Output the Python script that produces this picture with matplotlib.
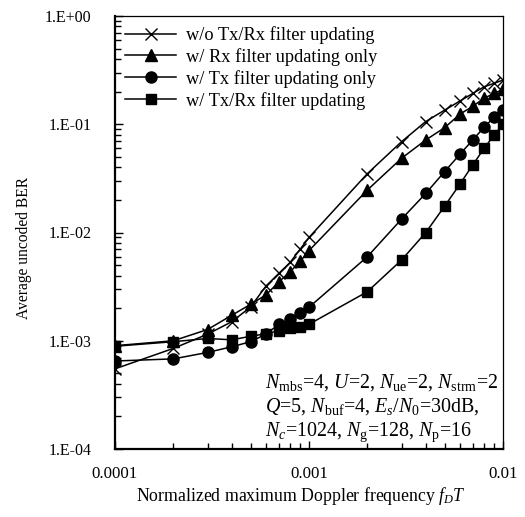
import matplotlib
matplotlib.use("Agg")
import matplotlib.pyplot as plt
from matplotlib.ticker import LogLocator, FixedLocator, FixedFormatter, NullFormatter

plt.rcParams['font.family'] = ['Liberation Serif', 'DejaVu Serif']
plt.rcParams['mathtext.fontset'] = 'custom'
plt.rcParams['mathtext.rm'] = 'Liberation Serif'
plt.rcParams['mathtext.it'] = 'Liberation Serif:italic'
plt.rcParams['mathtext.bf'] = 'Liberation Serif:bold'

fdT = [1e-4, 2e-4, 3e-4, 4e-4, 5e-4, 6e-4, 7e-4, 8e-4, 9e-4, 1e-3,
       2e-3, 3e-3, 4e-3, 5e-3, 6e-3, 7e-3, 8e-3, 9e-3, 1e-2]

ber_wo = [5.5e-4, 8.5e-4, 1.15e-3, 1.5e-3, 2.05e-3, 3.2e-3, 4.2e-3, 5.3e-3, 7.0e-3, 9.0e-3,
          3.5e-2, 6.9e-2, 0.106, 0.135, 0.164, 0.193, 0.222, 0.239, 0.256]
ber_rx = [9.0e-4, 1.0e-3, 1.27e-3, 1.72e-3, 2.17e-3, 2.65e-3, 3.5e-3, 4.35e-3, 5.4e-3, 6.8e-3,
          2.47e-2, 4.85e-2, 7.16e-2, 9.3e-2, 0.124, 0.147, 0.174, 0.193, 0.21]
ber_tx = [6.5e-4, 6.8e-4, 7.8e-4, 8.8e-4, 9.8e-4, 1.15e-3, 1.42e-3, 1.58e-3, 1.82e-3, 2.04e-3,
          5.98e-3, 1.33e-2, 2.3e-2, 3.65e-2, 5.28e-2, 7.2e-2, 9.4e-2, 0.116, 0.135]
ber_txrx = [8.9e-4, 9.8e-4, 1.05e-3, 1.02e-3, 1.1e-3, 1.16e-3, 1.24e-3, 1.3e-3, 1.35e-3, 1.42e-3,
            2.84e-3, 5.57e-3, 1.0e-2, 1.75e-2, 2.8e-2, 4.24e-2, 6.0e-2, 7.96e-2, 0.1]

labels = ["w/o Tx/Rx filter updating", "w/ Rx filter updating only",
          "w/ Tx filter updating only", "w/ Tx/Rx filter updating"]

yticks = [1e-4, 1e-3, 1e-2, 1e-1, 1e0]
ytick_labels = ["1.E-04", "1.E-03", "1.E-02", "1.E-01", "1.E+00"]
xticks = [1e-4, 1e-3, 1e-2]
xtick_labels = ["0.0001", "0.001", "0.01"]

ann_lines = [r"$N_{\mathrm{mbs}}$=4, $U$=2, $N_{\mathrm{ue}}$=2, $N_{\mathrm{strm}}$=2",
             r"$Q$=5, $N_{\mathrm{buf}}$=4, $E_s/N_0$=30dB,",
             r"$N_c$=1024, $N_{\mathrm{g}}$=128, $N_{\mathrm{p}}$=16"]

fig = plt.figure(figsize=(5.25, 5.17), dpi=100)
ax = fig.add_axes([115/525, 1-449/517, (503-115)/525, (449-16)/517])

ax.plot(fdT, ber_wo, color='black', lw=1.1, marker='x', ms=9, mew=1.0, label=labels[0])
ax.plot(fdT, ber_rx, color='black', lw=1.1, marker='^', ms=8.5, label=labels[1])
ax.plot(fdT, ber_tx, color='black', lw=1.1, marker='o', ms=8, label=labels[2])
ax.plot(fdT, ber_txrx, color='black', lw=1.1, marker='s', ms=7.5, label=labels[3])

ax.set_xscale('log')
ax.set_yscale('log')
ax.set_xlim(1e-4, 1e-2)
ax.set_ylim(1e-4, 1e0)

ax.yaxis.set_major_locator(FixedLocator(yticks))
ax.yaxis.set_major_formatter(FixedFormatter(ytick_labels))
ax.xaxis.set_major_locator(FixedLocator(xticks))
ax.xaxis.set_major_formatter(FixedFormatter(xtick_labels))
ax.yaxis.set_minor_locator(LogLocator(base=10, subs=range(2, 10)))
ax.xaxis.set_minor_locator(LogLocator(base=10, subs=range(2, 10)))
ax.yaxis.set_minor_formatter(NullFormatter())
ax.xaxis.set_minor_formatter(NullFormatter())

ax.tick_params(which='both', direction='in', top=False, right=False, width=1.0)
ax.tick_params(which='major', length=6)
ax.tick_params(which='minor', length=4)
ax.tick_params(axis='y', which='major', pad=17, labelsize=11.5)
ax.tick_params(axis='x', which='major', pad=12, labelsize=12.2)

ax.spines['left'].set_linewidth(1.6)
ax.spines['bottom'].set_linewidth(1.6)
ax.spines['top'].set_linewidth(0.9)
ax.spines['right'].set_linewidth(0.9)

fig.text(24/525, 1-248/517, "Average uncoded BER", rotation=90,
         ha='center', va='center', fontsize=11.2)
fig.text(136/525, 1-496/517, r"Normalized maximum Doppler frequency $f_DT$",
         ha='left', va='center', fontsize=12.8)

leg = ax.legend(loc='upper left', bbox_to_anchor=(0.0, 1.0), frameon=False,
                fontsize=13.2, handlelength=2.8, handletextpad=0.5,
                labelspacing=0.22, borderaxespad=0.25, borderpad=0.3)

for i, line in enumerate(ann_lines):
    ax.text(265/525, 1-[388, 412, 436][i]/517, line, transform=fig.transFigure,
            ha='left', va='baseline', fontsize=14.4)

fig.savefig("out.png", dpi=100)
